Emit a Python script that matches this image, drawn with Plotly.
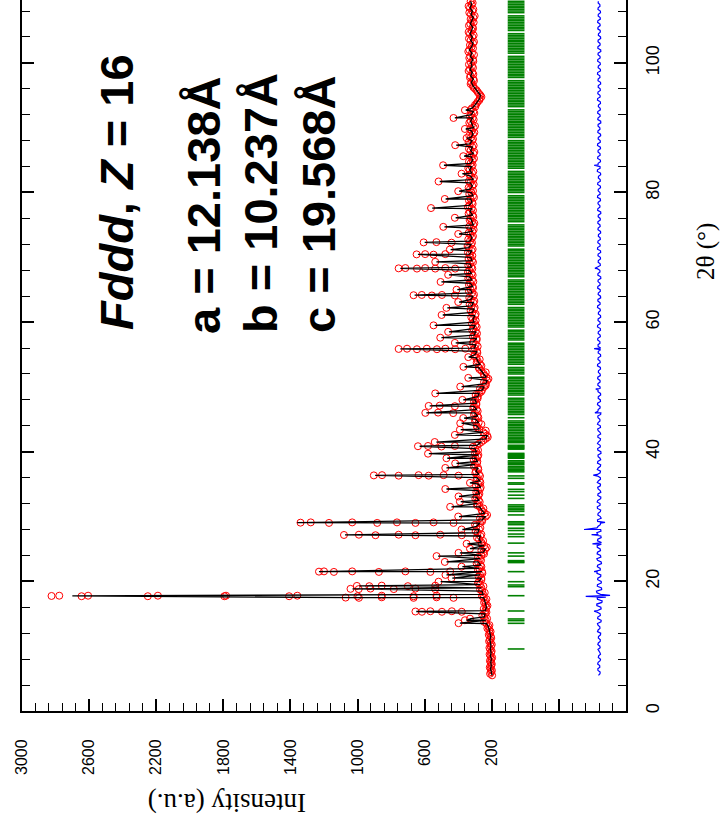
import plotly.graph_objects as go

# ---------------- data ----------------
# background (including unresolved small reflections): main grid and half-step grid
bg_start = 5.5
bg_step = 0.5
bg_I = [
    198, 204, 207, 203, 206, 202, 208, 204, 209, 205,
    207, 211, 206, 212, 214, 220, 232, 236, 245, 240,
    238, 232, 236, 240, 248, 252, 258, 262, 270, 276,
    262, 270, 258, 274, 266, 282, 270, 262, 250, 238,
    245, 262, 276, 268, 284, 276, 292, 270, 258, 236,
    242, 260, 272, 286, 278, 290, 274, 282, 266, 280,
    272, 288, 276, 294, 282, 300, 286, 296, 280, 292,
    300, 288, 262, 236, 228, 250, 274, 290, 278, 296,
    284, 300, 290, 306, 292, 298, 284, 276, 258, 246,
    236, 228, 232, 248, 262, 278, 270, 284, 292, 300,
    288, 302, 296, 308, 290, 304, 296, 310, 298, 306,
    312, 300, 316, 306, 320, 310, 324, 312, 318, 326,
    314, 328, 318, 332, 320, 334, 322, 330, 318, 326,
    332, 320, 336, 324, 330, 318, 328, 316, 324, 310,
    318, 326, 314, 330, 320, 334, 318, 326, 312, 322,
    330, 316, 328, 312, 324, 318, 332, 320, 326, 314,
    322, 310, 326, 316, 330, 318, 324, 312, 320, 308,
    318, 326, 314, 322, 310, 318, 300, 284, 272, 268,
    284, 300, 312, 322, 310, 326, 316, 330, 318, 324,
    312, 328, 318, 334, 320, 312, 326, 316, 330, 320,
    314, 328, 318, 310, 324, 316, 330, 320, 326,
]
bg_mid_start = 5.75
bg_I_mid = [
    210, 199, 212, 200, 211, 198, 213, 201, 214, 200,
    216, 203, 218, 207, 226, 214, 245, 228, 256, 232,
    248, 226, 246, 232, 258, 242, 270, 250, 282, 262,
    278, 256, 282, 262, 290, 264, 282, 246, 262, 230,
    258, 252, 288, 262, 296, 268, 300, 258, 270, 228,
    256, 250, 288, 272, 298, 280, 292, 270, 294, 268,
    290, 270, 298, 280, 306, 288, 308, 284, 300, 282,
    312, 276, 250, 224, 240, 236, 286, 262, 300, 280,
    306, 284, 310, 292, 306, 284, 296, 264, 270, 236,
    246, 220, 244, 236, 274, 262, 290, 272, 304, 286,
    310, 284, 314, 290, 312, 288, 316, 290, 318, 296,
    322, 296, 326, 302, 332, 304, 334, 306, 336, 312,
    336, 310, 340, 314, 342, 316, 340, 312, 338, 316,
    342, 314, 344, 318, 340, 312, 338, 308, 334, 304,
    332, 310, 338, 312, 342, 314, 336, 306, 334, 312,
    338, 308, 336, 306, 334, 310, 340, 314, 336, 306,
    332, 304, 336, 308, 338, 312, 334, 304, 330, 300,
    334, 308, 330, 304, 326, 298, 290, 274, 262, 276,
    290, 310, 326, 306, 330, 310, 338, 312, 336, 310,
    334, 306, 340, 312, 330, 306, 336, 308, 338, 312,
    336, 308, 326, 302, 334, 310, 338, 314,
]

# Bragg peaks: position (2theta), observed tip, calculated tip
peak_tt = [13.55, 14.0, 14.25, 15.35, 17.5, 17.75, 18.85, 19.3, 19.95, 20.5,
           21.0, 21.5, 22.27, 23.0, 23.9, 24.4, 25.05, 25.8, 27.16, 28.0,
           29.06, 30.0, 31.5, 32.3, 33.1, 34.25, 35.2, 36.35, 37.5, 38.2,
           39.0, 39.7, 40.85, 41.5, 42.6, 43.4, 44.4, 45.2, 46.0, 47.07,
           48.0, 49.0, 50.05, 51.4, 53.1, 54.6, 55.86, 56.8, 57.6, 58.5,
           59.5, 61.1, 62.2, 63.1, 64.15, 65.0, 66.2, 67.3, 68.3, 69.3,
           70.45, 71.2, 72.3, 73.6, 74.7, 76.1, 77.6, 79.0, 80.2, 81.7,
           82.9, 84.2, 85.6, 87.3, 88.4, 89.8, 91.5, 92.7]
peak_obs = [398, 360, 330, 655, 1071, 2824, 1042, 1004, 517, 440,
            476, 1230, 380, 480, 529, 398, 330, 350, 1081, 380,
            1340, 400, 448, 390, 398, 477, 330, 903, 477, 418,
            470, 580, 640, 540, 420, 390, 388, 370, 596, 576,
            375, 537, 388, 340, 369, 340, 755, 420, 507, 460,
            547, 499, 470, 400, 666, 410, 505, 460, 755, 537,
            648, 450, 606, 400, 489, 420, 562, 480, 400, 517,
            380, 490, 370, 418, 350, 360, 428, 360]
peak_calc = [390, 350, 325, 650, 1040, 2700, 1030, 990, 505, 435,
             470, 1230, 375, 470, 520, 390, 330, 345, 1075, 375,
             1360, 395, 440, 385, 395, 470, 330, 895, 470, 410,
             465, 575, 630, 530, 415, 385, 380, 365, 590, 570,
             370, 530, 380, 338, 362, 338, 745, 415, 500, 455,
             540, 492, 465, 395, 660, 405, 500, 455, 745, 530,
             640, 445, 600, 395, 482, 415, 555, 475, 395, 510,
             375, 485, 365, 412, 348, 355, 420, 355]

# observed points lying on the flanks of the strong peaks
side_tt = [17.79, 17.71, 17.79, 17.71, 17.79, 17.71, 17.79, 17.71, 17.79, 17.71, 17.79, 17.71, 17.79,
           17.46, 17.54, 17.46, 17.54, 17.46,
           15.31, 15.39, 15.31, 15.39, 15.31,
           18.81, 18.89, 18.81, 18.89, 18.81,
           19.26, 19.34, 19.26, 19.34,
           21.54, 21.46, 21.54, 21.46, 21.54, 21.46, 21.54,
           27.2, 27.12, 27.2, 27.12, 27.2, 27.12,
           29.1, 29.02, 29.1, 29.02, 29.1, 29.02, 29.1, 29.02,
           36.39, 36.31, 36.39, 36.31, 36.39, 36.31,
           40.89, 40.81, 40.89,
           46.04, 45.96,
           47.11, 47.03,
           55.9, 55.82, 55.9, 55.82, 55.9, 55.82, 55.9,
           64.19, 64.11, 64.19, 64.11,
           68.34, 68.26, 68.34, 68.26, 68.34, 68.26,
           70.49, 70.41, 70.49,
           72.34, 72.26]
side_I = [2778, 2645, 2606, 2250, 2190, 1794, 1784, 1408, 1359, 1000, 856, 666, 529,
          992, 856, 666, 529, 428,
          616, 566, 497, 438, 379,
          993, 923, 784, 655, 537,
          930, 856, 700, 537,
          1200, 1141, 1032, 873, 715, 566, 448,
          992, 893, 755, 655, 507, 379,
          1279, 1170, 1032, 883, 765, 655, 547, 428,
          854, 755, 636, 576, 487, 398,
          580, 500, 420,
          520, 430,
          510, 420,
          705, 646, 587, 527, 477, 418, 358,
          617, 557, 497, 420,
          715, 646, 597, 537, 477, 418,
          597, 547, 477,
          530, 440]

# difference curve (obs - calc): residuals on both grids + spikes at strong peaks
diff_offset = -440
diff_res = [
    4, -6, 8, -3, 6, -8, 3, -5, 7, -4,
    5, -7, 4, -9, 6, -4, 10, -12, 8, -6,
    9, -10, 14, -18, 12, -8, 16, -14, 10, -12,
    8, -10, 12, -6, 9, -12, 14, -8, 10, -6,
    12, -14, 8, -10, 14, -9, 6, -8, 10, -7,
    6, -9, 11, -5, 8, -10, 7, -6, 9, -8,
    5, -7, 10, -8, 6, -9, 8, -5, 7, -10,
    9, -6, 5, -8, 7, -5, 9, -7, 6, -4,
    8, -10, 6, -5, 9, -7, 5, -8, 6, -6,
    7, -5, 8, -6, 4, -7, 9, -5, 6, -8,
    5, -9, 7, -4, 8, -6, 5, -7, 9, -5,
    6, -8, 4, -6, 9, -5, 7, -8, 5, -6,
    8, -5, 6, -9, 7, -4, 10, -6, 5, -7,
    6, -8, 9, -5, 7, -6, 4, -8, 6, -5,
    7, -6, 5, -9, 8, -4, 6, -7, 9, -5,
    5, -7, 8, -6, 4, -8, 10, -5, 6, -7,
    8, -5, 6, -7, 9, -6, 5, -8, 7, -4,
    6, -9, 7, -5, 8, -6, 4, -7, 9, -5,
    7, -6, 5, -8, 6, -4, 9, -7, 5, -6,
    8, -5, 6, -9, 7, -5, 6, -8, 4, -6,
    7, -5, 8, -6, 5, -7, 6, -4, 5,
]
diff_res_mid = [
    -5, 7, -4, 9, -6, 5, -8, 4, -6, 8,
    -6, 5, -8, 10, -5, 7, -11, 9, -7, 12,
    -12, 14, -16, 10, -9, 13, -15, 11, -13, 9,
    -9, 13, -7, 11, -14, 9, -10, 12, -8, 11,
    -13, 10, -12, 8, -11, 13, -7, 9, -12, 8,
    -7, 10, -6, 12, -9, 8, -10, 6, -7, 11,
    -8, 9, -6, 11, -7, 10, -9, 6, -11, 8,
    -7, 10, -6, 8, -9, 6, -8, 10, -5, 7,
    -9, 7, -6, 10, -8, 6, -9, 7, -5, 8,
    -6, 9, -7, 5, -8, 10, -6, 7, -9, 6,
    -8, 6, -5, 9, -7, 6, -8, 10, -6, 7,
    -9, 5, -7, 10, -6, 8, -9, 6, -7, 9,
    -6, 7, -10, 8, -5, 11, -7, 6, -8, 7,
    -9, 10, -6, 8, -7, 5, -9, 7, -6, 8,
    -7, 6, -10, 9, -5, 7, -8, 10, -6, 6,
    -8, 9, -7, 5, -9, 11, -6, 7, -8, 9,
    -6, 7, -8, 10, -7, 6, -9, 8, -5, 7,
    -10, 8, -6, 9, -7, 5, -8, 10, -6, 8,
    -7, 6, -9, 7, -5, 10, -8, 6, -7, 9,
    -6, 7, -10, 8, -6, 7, -9, 5, -7, 8,
    -6, 9, -7, 6, -8, 7, -5, 6,
]
diff_spike_tt = [15.4, 17.55, 17.7, 17.85, 21.5, 25.8, 27.2, 28.0, 29.1, 36.4,
                 46.0, 49.7, 55.9, 68.3, 84.2]
diff_spike_val = [30, -40, 80, -65, 30, 40, 45, 90, -35, 35,
                  25, 20, 30, 25, 30]

# reflection markers (2theta)
refl_tt = [9.57, 13.53, 13.94, 14.2, 15.43, 17.79, 19.18, 19.44, 19.95, 21.5,
           22.9, 23.04, 23.2, 23.9, 24.4, 25.9, 26.9, 27.3, 27.85, 28.2,
           28.75, 29.0, 29.2, 30.25, 30.8, 31.05, 31.3, 31.55, 31.8, 32.8,
           33.3, 33.85, 34.2, 35.0, 35.2, 35.9, 36.27, 36.9, 37.1, 37.3,
           37.5, 37.7, 38.0, 38.2, 38.4, 38.6, 39.0, 39.15, 39.3, 39.45,
           39.6, 39.75, 40.4, 40.55, 40.7, 40.85, 41.0, 41.4, 41.6, 41.8,
           42.0, 42.25, 42.5, 42.75, 43.0, 43.25, 43.5, 43.75, 44.0, 44.25, 44.5, 44.75, 45.25, 45.75,
           46.0, 46.25, 46.5, 46.75, 47.0, 47.25, 47.5, 47.75, 48.0, 48.25, 48.75, 49.0, 49.25, 49.5, 49.75,
           50.0, 50.25, 50.5, 50.75, 51.0, 51.25, 51.5, 52.0, 52.25, 52.5, 52.75, 53.0, 53.5, 53.75,
           54.0, 54.25, 54.5, 54.75, 55.0, 55.25, 55.5, 55.75, 56.0, 56.25, 56.5, 56.75, 57.25, 57.5, 57.75,
           58.0, 58.25, 58.5, 58.75, 59.25, 59.5, 59.75, 60.0, 60.25, 60.5, 60.75, 61.0, 61.25, 61.5, 61.75,
           62.0, 62.25, 62.75, 63.0, 63.25, 63.5, 63.75, 64.0, 64.25, 64.5, 64.75, 65.0, 65.25, 65.5, 65.75,
           66.0, 66.25, 66.5, 67.0, 67.25, 67.5, 67.75, 68.0, 68.25, 68.5, 68.75, 69.0, 69.25, 69.5, 69.75,
           70.0, 70.25, 70.5, 70.75, 71.0, 71.25, 71.75, 72.0, 72.25, 72.5, 72.75, 73.0, 73.25, 73.5, 73.75,
           74.0, 74.25, 74.5, 74.75, 75.0, 75.5, 75.75, 76.0, 76.25, 76.5, 76.75, 77.0, 77.25, 77.5, 77.75,
           78.0, 78.25, 78.5, 78.75, 79.0, 79.25, 79.5, 80.0, 80.25, 80.5, 80.75, 81.0, 81.25, 81.5, 81.75,
           82.0, 82.25, 82.5, 82.75, 83.0, 83.25, 83.75, 84.0, 84.25, 84.5, 84.75, 85.0, 85.25, 85.5, 85.75,
           86.0, 86.25, 86.5, 86.75, 87.0, 87.25, 87.5, 87.75, 88.0, 88.5, 88.75, 89.0, 89.25, 89.5, 89.75,
           90.0, 90.25, 90.5, 90.75, 91.0, 91.25, 91.5, 91.75, 92.0, 92.25, 92.5, 92.75, 93.25, 93.5, 93.75,
           94.0, 94.25, 94.5, 94.75, 95.0, 95.25, 95.5, 95.75, 96.0, 96.25, 96.5, 96.75, 97.0, 97.25, 97.75,
           98.0, 98.25, 98.5, 98.75, 99.0, 99.25, 99.5, 99.75, 100.0, 100.25, 100.5, 100.75, 101.0, 101.5, 101.75,
           102.0, 102.25, 102.5, 102.75, 103.0, 103.25, 103.5, 103.75, 104.0, 104.25, 104.5, 105.0, 105.25, 105.5, 105.75,
           106.0, 106.25, 106.5, 106.75, 107.0, 107.25, 107.75, 108.0, 108.25, 108.5, 108.75, 109.0, 109.25, 109.5]
refl_lo = 5
refl_hi = 105

# axis tick labels
int_tickvals = [-600, -200, 200, 600, 1000, 1400, 1800, 2200, 2600, 3000]
int_ticktext = ["", "", "200", "600", "1000", "1400", "1800", "2200", "2600", "3000"]

# ---------------- assemble ----------------
bg_tt = [round(bg_start + i * bg_step, 3) for i in range(len(bg_I))]
bg_tt_mid = [round(bg_mid_start + i * bg_step, 3) for i in range(len(bg_I_mid))]

obs_tt = bg_tt + bg_tt_mid + peak_tt + side_tt
obs_I = bg_I + bg_I_mid + peak_obs + side_I

calc_pts = sorted(zip(bg_tt + peak_tt, bg_I + peak_calc, strict=True))
calc_tt = [p[0] for p in calc_pts]
calc_I = [p[1] for p in calc_pts]

diff_pts = sorted(zip(bg_tt + bg_tt_mid + diff_spike_tt,
                      diff_res + diff_res_mid + diff_spike_val, strict=True))
diff_tt = [p[0] for p in diff_pts]
diff_I = [p[1] + diff_offset for p in diff_pts]

rx, ry = [], []
for t in refl_tt:
    rx += [refl_lo, refl_hi, None]
    ry += [t, t, None]

# ---------------- figure ----------------
L, R, T, B = 22, 98, 0, 120
W, H = 724, 831
pw, ph = W - L - R, H - T - B


def px(x):
    return (x - L) / pw


def py(y):
    return (H - B - y) / ph


fig = go.Figure()
fig.add_trace(go.Scatter(x=rx, y=ry, mode="lines",
                         line=dict(color="#008000", width=1.6),
                         hoverinfo="skip", showlegend=False))
fig.add_trace(go.Scatter(x=diff_I, y=diff_tt, mode="lines",
                         line=dict(color="#0000ff", width=1.2),
                         showlegend=False))
fig.add_trace(go.Scatter(x=obs_I, y=obs_tt, mode="markers",
                         marker=dict(symbol="circle-open", size=7,
                                     color="#ff0000", line=dict(width=1, color="#ff0000")),
                         showlegend=False))
fig.add_trace(go.Scatter(x=calc_I, y=calc_tt, mode="lines",
                         line=dict(color="black", width=1.3),
                         showlegend=False))

sans = "Liberation Sans, Arial, sans-serif"
serif = "Liberation Serif, Times New Roman, serif"
tickfont = dict(family=sans, size=16, color="black")

fig.update_layout(
    width=W, height=H,
    margin=dict(l=L, r=R, t=T, b=B, autoexpand=False),
    paper_bgcolor="white", plot_bgcolor="white",
    showlegend=False,
    xaxis=dict(
        range=[3000, -600], showgrid=False, zeroline=False,
        showline=True, linecolor="black", linewidth=2, mirror=False,
        ticks="inside", ticklen=12, tickwidth=1.5, tickcolor="black",
        tickmode="array", tickvals=int_tickvals, ticktext=int_ticktext,
        tickangle=-90, tickfont=tickfont, ticklabelstandoff=20,
        minor=dict(tickmode="linear", tick0=200, dtick=80, ticks="inside",
                   ticklen=8, tickwidth=1, tickcolor="black"),
    ),
    yaxis=dict(
        range=[0, 109.7], side="right", showgrid=False, zeroline=False,
        showline=True, linecolor="black", linewidth=2, mirror="ticks",
        ticks="inside", ticklen=12, tickwidth=1.5, tickcolor="black",
        tickmode="linear", tick0=0, dtick=20,
        tickangle=-90, tickfont=dict(tickfont, size=18), ticklabelstandoff=9,
        minor=dict(tickmode="linear", tick0=0, dtick=4, ticks="inside",
                   ticklen=8, tickwidth=1, tickcolor="black"),
    ),
)

ann = [
    dict(text="Intensity (a.u.)", x=px(227), y=py(803), textangle=180,
         font=dict(family=serif, size=27, color="black")),
    dict(text="2θ (°)", x=px(706), y=py(252), textangle=-90,
         font=dict(family=serif, size=25, color="black")),
    dict(text="<b><i>Fddd</i>, <i>Z</i> = 16</b>", x=px(116), y=py(192), textangle=-90,
         font=dict(family=sans, size=47, color="black")),
    dict(text="<b>a = 12.138Å</b>", x=px(203), y=py(205), textangle=-90,
         font=dict(family=sans, size=47, color="black")),
    dict(text="<b>b = 10.237Å</b>", x=px(260), y=py(203), textangle=-90,
         font=dict(family=sans, size=47, color="black")),
    dict(text="<b>c = 19.568Å</b>", x=px(318), y=py(205), textangle=-90,
         font=dict(family=sans, size=47, color="black")),
]
for a in ann:
    fig.add_annotation(xref="paper", yref="paper", showarrow=False,
                       xanchor="center", yanchor="middle", **a)

fig.write_html("out.html", config={"displayModeBar": False},
               post_script="document.body.style.margin='0px';document.body.style.overflow='hidden';")
